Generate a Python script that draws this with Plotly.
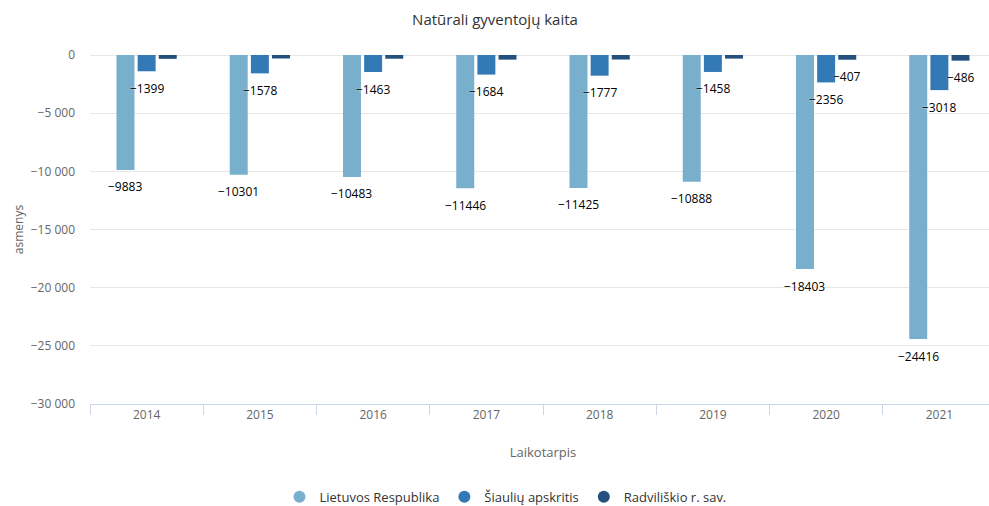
import plotly.graph_objects as go

years = ["2014", "2015", "2016", "2017", "2018", "2019", "2020", "2021"]
lietuvos = [-9883, -10301, -10483, -11446, -11425, -10888, -18403, -24416]
siauliu = [-1399, -1578, -1463, -1684, -1777, -1458, -2356, -3018]
radviliskio = [-330, -300, -320, -400, -390, -310, -407, -486]
radv_shown = [False, False, False, False, False, False, True, True]

series_names = ["Lietuvos Respublika", "Šiaulių apskritis", "Radviliškio r. sav."]
colors = ["#78afcd", "#3379b6", "#24507d"]

FONT = "Open Sans, sans-serif"
W, H = 997, 506
BARGAP = 0.44
ML, MR = 90, 1

def lab(v):
    return "−" + str(abs(v))

fig = go.Figure()
all_series = [lietuvos, siauliu, radviliskio]
shown = [[True] * len(years), [True] * len(years), radv_shown]

# grouped-bar slot width in pixels (derived from layout), used to centre labels on bars
cat_px = (W - ML - MR) / len(years)
slot_px = cat_px * (1 - BARGAP) / len(all_series)

annotations = []
for i, (name, vals) in enumerate(zip(series_names, all_series)):
    fig.add_trace(go.Bar(
        x=years, y=vals, name=name, marker=dict(color=colors[i], line=dict(width=0)),
        showlegend=False, hoverinfo="x+y",
    ))
    fig.add_trace(go.Scatter(
        x=[None], y=[None], mode="markers", name=name,
        marker=dict(symbol="circle", size=12, color=colors[i]),
        showlegend=True,
    ))
    for k, (v, s) in enumerate(zip(vals, shown[i])):
        if s:
            annotations.append(dict(
                x=k, y=v, xref="x", yref="y", text=lab(v), showarrow=False,
                xshift=(i - 1) * slot_px, yshift=-17, yanchor="middle", xanchor="center",
                font=dict(family=FONT, size=12, color="#000000", shadow="0px 0px 2px #ffffff"),
            ))

fig.update_layout(
    width=W, height=H,
    paper_bgcolor="white", plot_bgcolor="white",
    separators=". ",
    margin=dict(l=ML, r=MR, t=55, b=102, autoexpand=False),
    title=dict(text="Natūrali gyventojų kaita", x=0.4965, xref="container", xanchor="center",
               y=0.96, yref="container", yanchor="middle",
               font=dict(family=FONT, size=15, color="#333333")),
    barmode="group", bargap=BARGAP, bargroupgap=0.15,
    font=dict(family=FONT, color="#666666", size=12),
    legend=dict(orientation="h", x=0.507, xref="container", xanchor="center",
                y=0.018, yref="container", yanchor="middle",
                font=dict(family=FONT, size=13, color="#333333"), itemsizing="constant"),
    xaxis=dict(
        type="category", categoryorder="array", categoryarray=years,
        showgrid=False, showline=True, linecolor="#ccd6eb", linewidth=1,
        ticks="outside", tickson="boundaries", ticklen=10, tickcolor="#ccd6eb",
        tickfont=dict(size=12, color="#666666"), automargin=False,
        title=dict(text="Laikotarpis", font=dict(size=13, color="#666666"), standoff=25),
    ),
    yaxis=dict(
        range=[-30000, 0], tickvals=[0, -5000, -10000, -15000, -20000, -25000, -30000],
        tickformat=",d", showgrid=True, gridcolor="#e6e6e6", gridwidth=1,
        zeroline=True, zerolinecolor="#e6e6e6", zerolinewidth=1,
        ticklabelstandoff=14, showline=False, automargin=False,
        tickfont=dict(size=12, color="#666666"),
        title=dict(text="asmenys", font=dict(size=12, color="#666666"), standoff=4),
    ),
    annotations=annotations,
)

fig.write_html(
    "out.html",
    config={"displayModeBar": False},
    post_script="document.body.style.margin='0';document.body.style.overflow='hidden';",
)
